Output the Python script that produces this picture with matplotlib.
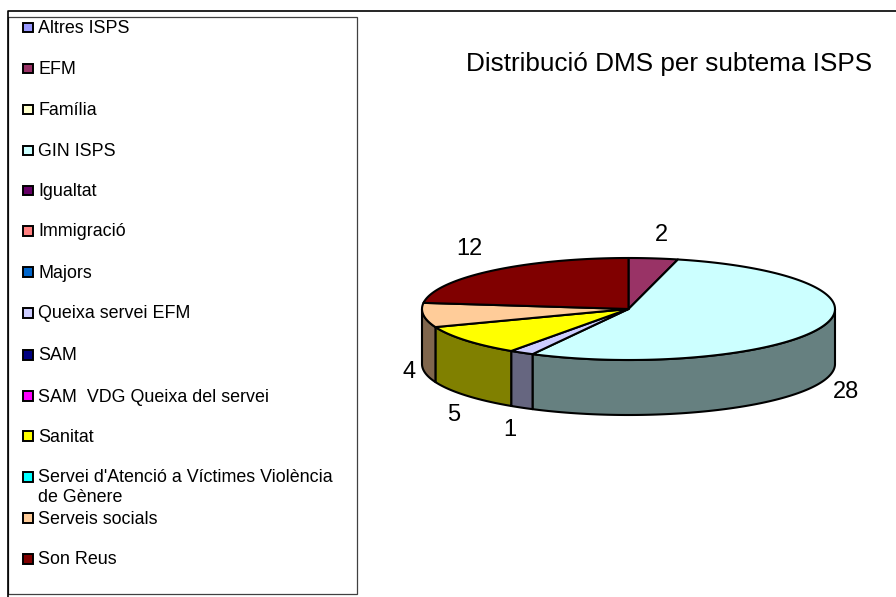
import numpy as np
import matplotlib
matplotlib.use('Agg')
import matplotlib.pyplot as plt
from matplotlib.patches import Polygon, Rectangle

plt.rcParams['font.family'] = ['Liberation Sans', 'DejaVu Sans']

title = 'Distribució DMS per subtema ISPS'
categories = ['Altres ISPS', 'EFM', 'Família', 'GIN ISPS', 'Igualtat', 'Immigració', 'Majors',
              'Queixa servei EFM', 'SAM', 'SAM  VDG Queixa del servei', 'Sanitat',
              "Servei d'Atenció a Víctimes Violència\nde Gènere", 'Serveis socials', 'Son Reus']
values = [0, 2, 0, 28, 0, 0, 0, 1, 0, 0, 5, 0, 4, 12]
colors = ['#9999FF', '#993366', '#FFFFCC', '#CCFFFF', '#660066', '#FF8080', '#0066CC',
          '#CCCCFF', '#000080', '#FF00FF', '#FFFF00', '#00FFFF', '#FFCC99', '#800000']

# layout in pixels of the 896x597 picture
cx, cy = 628.5, 309
rx, ry = 206.5, 51
depth = 55
legend_size = 12.9
# small hand corrections for the value labels, by category
nudge = {'EFM': (5, 1), 'GIN ISPS': (4, 3), 'Queixa servei EFM': (-1, 1), 'Sanitat': (5, 5),
         'Serveis socials': (7, 1), 'Son Reus': (-8, 1)}

fig = plt.figure(figsize=(8.96, 5.97), dpi=100)
ax = fig.add_axes([0, 0, 1, 1])
ax.set_xlim(0, 896)
ax.set_ylim(597, 0)
ax.axis('off')

# frames
ax.plot([7.5, 7.5, 896], [597, 11, 11], color='black', lw=1.2)
ax.add_patch(Rectangle((8, 16.5), 348.5, 577.5, fc='white', ec='#404040', lw=0.9))

# legend
row_y = [27.5, 68.5, 109.5, 150.5, 190.5, 231, 272, 313, 355, 396, 436, 477, 518, 559]
for name, col, y in zip(categories, colors, row_y):
    ax.add_patch(Rectangle((22.8, y - 4.8), 10, 9.6, fc=col, ec='black', lw=1.4))
    if '\n' in name:
        first, second = name.split('\n')
        ax.text(38, y + 1, first, fontsize=legend_size, va='center', ha='left')
        ax.text(38, y + 21, second, fontsize=legend_size, va='center', ha='left')
    else:
        ax.text(38, y + 1, name, fontsize=legend_size, va='center', ha='left')

ax.text(669, 64, title, fontsize=18.8, ha='center', va='center')


def ell(angle):
    # angle in degrees, clockwise from the top of the pie
    t = np.radians(angle)
    return cx + rx * np.sin(t), cy - ry * np.cos(t)


def darker(col):
    return tuple(c * 0.5 for c in matplotlib.colors.to_rgb(col))


# slices: only non-zero values
slices = []
start = 0
total = sum(values)
for name, v, col in zip(categories, values, colors):
    if v > 0:
        slices.append((name, v, col, start, start + v / total * 360))
        start += v / total * 360

# side walls (front half only)
for name, v, col, a0, a1 in slices:
    lo, hi = max(a0, 90), min(a1, 270)
    if lo >= hi:
        continue
    ang = np.linspace(lo, hi, 120)
    x, y = ell(ang)
    pts = np.concatenate([np.column_stack([x, y]),
                          np.column_stack([x[::-1], y[::-1] + depth])])
    ax.add_patch(Polygon(pts, closed=True, fc=darker(col), ec='black', lw=1.5, joinstyle='round'))

# top faces
for name, v, col, a0, a1 in slices:
    ang = np.linspace(a0, a1, 240)
    x, y = ell(ang)
    pts = np.vstack([[cx, cy], np.column_stack([x, y])])
    ax.add_patch(Polygon(pts, closed=True, fc=col, ec='black', lw=1.5, joinstyle='round'))

# value labels
for name, v, col, a0, a1 in slices:
    mid = (a0 + a1) / 2
    t = np.radians(mid)
    lx = cx + 228 * np.sin(t)
    if np.cos(t) < 0:
        ly = cy + 52 + 79 * abs(np.cos(t))
    else:
        ly = cy - 18 - 57 * np.cos(t)
    ax.text(lx + nudge[name][0], ly + nudge[name][1], str(v), fontsize=17, ha='center', va='center')

fig.savefig('out.png', dpi=100)
